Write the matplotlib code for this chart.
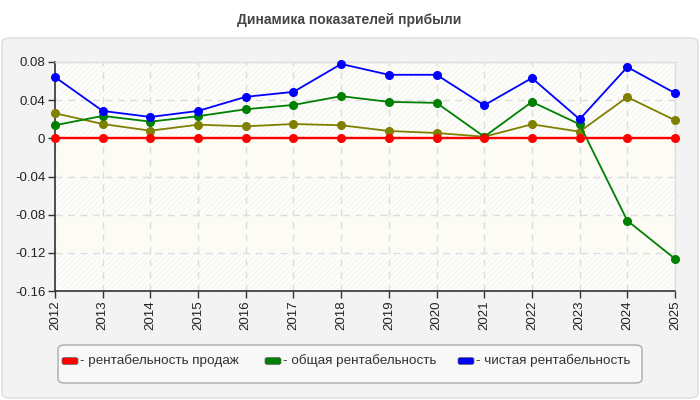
import matplotlib
matplotlib.use("Agg")
import matplotlib.pyplot as plt
from matplotlib.patches import FancyBboxPatch
import matplotlib as mpl

plt.rcParams['font.family'] = ['Liberation Sans', 'DejaVu Sans']
mpl.rcParams['hatch.color'] = '#f0f0f0'
mpl.rcParams['hatch.linewidth'] = 0.5

years = [2012, 2013, 2014, 2015, 2016, 2017, 2018, 2019, 2020, 2021, 2022, 2023, 2024, 2025]
sales_profitability = [0, 0, 0, 0, 0, 0, 0, 0, 0, 0, 0, 0, 0, 0]
total_profitability = [0.0137, 0.0235, 0.0175, 0.0232, 0.0305, 0.035, 0.0442, 0.0382, 0.0372,
                       0.0017, 0.0382, 0.0147, -0.0863, -0.1263]
net_profitability = [0.0642, 0.0287, 0.0224, 0.0287, 0.0435, 0.0487, 0.0779, 0.0666, 0.0666,
                     0.0347, 0.0632, 0.020, 0.0747, 0.0474]
olive_series = [0.0263, 0.015, 0.008, 0.0143, 0.0126, 0.015, 0.0137, 0.0077, 0.0056,
                0.0017, 0.0147, 0.007, 0.0432, 0.019]
y_ticks = [0.08, 0.04, 0, -0.04, -0.08, -0.12, -0.16]
y_tick_labels = ['0.08', '0.04', '0', '-0.04', '-0.08', '-0.12', '-0.16']
title = 'Динамика показателей прибыли'
legend_labels = ['- рентабельность продаж', '- общая рентабельность', '- чистая рентабельность']
legend_colors = ['#ff0000', '#008000', '#0000ff']

fig = plt.figure(figsize=(7, 4), dpi=100)
fig.patch.set_facecolor('white')

# outer panel
panel = FancyBboxPatch((2 / 700, 2 / 400), 696 / 700, 360 / 400,
                       boxstyle='round,pad=0,rounding_size=0.012',
                       transform=fig.transFigure, facecolor='#f3f3f3',
                       edgecolor='#dddddd', linewidth=1, zorder=-5)
fig.patches.append(panel)

fig.text(349 / 700, 1 - 20 / 400, title, ha='center', va='center',
         fontsize=10, fontweight='bold', color='#444444')

ax = fig.add_axes([55 / 700, 1 - 291 / 400, 620 / 700, 229 / 400])
ax.set_zorder(1)
ax.set_facecolor('white')
ax.set_xlim(years[0], years[-1])
ax.set_ylim(-0.16, 0.08)

# background bands
bands = [(0.04, 0.08, True), (0.0, 0.04, True), (-0.04, 0.0, False),
         (-0.08, -0.04, True), (-0.12, -0.08, False), (-0.16, -0.12, True)]
for lo, hi, hatched in bands:
    if hatched:
        ax.axhspan(lo, hi, facecolor='#fdfdfa', edgecolor='#f0f0f0', hatch='//////',
                   linewidth=0, zorder=0)
    else:
        ax.axhspan(lo, hi, facecolor='#fcfcf4', linewidth=0, zorder=0)

for yv in y_ticks:
    ax.axhline(yv, color='#dddddd', linestyle=(0, (5, 4)), linewidth=1, zorder=1)
for xv in years:
    ax.axvline(xv, color='#dddddd', linestyle=(0, (5, 4)), linewidth=1, zorder=1)

lw = 1.3
ms = 5.5
ax.plot(years, olive_series, color='#808000', marker='o', markersize=ms, linewidth=lw,
        zorder=3, clip_on=False)
ax.plot(years, total_profitability, color='#008000', marker='o', markersize=ms, linewidth=lw,
        zorder=4, clip_on=False)
ax.plot(years, net_profitability, color='#0000ff', marker='o', markersize=ms, linewidth=lw,
        zorder=5, clip_on=False)
ax.plot(years, sales_profitability, color='#ff0000', marker='o', markersize=ms, linewidth=1.7,
        zorder=6, clip_on=False)

ax.set_yticks(y_ticks)
ax.set_yticklabels(y_tick_labels)
ax.set_xticks(years)
ax.set_xticklabels([str(y) for y in years], rotation=90)
ax.tick_params(axis='both', labelsize=9.5, colors='#333333', length=5, width=1, direction='out',
               labelcolor='#222222', pad=2)
for s in ['top', 'right']:
    ax.spines[s].set_color('#dddddd')
    ax.spines[s].set_linewidth(1)
for s in ['left', 'bottom']:
    ax.spines[s].set_color('#333333')
    ax.spines[s].set_linewidth(1.2)

# legend box
lg = FancyBboxPatch((58 / 700, 1 - 383 / 400), 584 / 700, 38 / 400,
                    boxstyle='round,pad=0,rounding_size=0.01',
                    transform=fig.transFigure, facecolor='#f8f8f8',
                    edgecolor='#aaaaaa', linewidth=1, zorder=1)
fig.patches.append(lg)
patch_x = [62, 265, 458]
ymid = 1 - 361 / 400
for px, lab, col in zip(patch_x, legend_labels, legend_colors):
    p = FancyBboxPatch((px / 700, ymid - 3.5 / 400), 16 / 700, 7 / 400,
                       boxstyle='round,pad=0,rounding_size=0.004',
                       transform=fig.transFigure, facecolor=col,
                       edgecolor='#666666', linewidth=0.5, zorder=2)
    fig.patches.append(p)
    fig.text((px + 18) / 700, ymid, lab, ha='left', va='center', fontsize=9.7,
             color='#333333', zorder=3)

fig.savefig('out.png', dpi=100, facecolor='white')
